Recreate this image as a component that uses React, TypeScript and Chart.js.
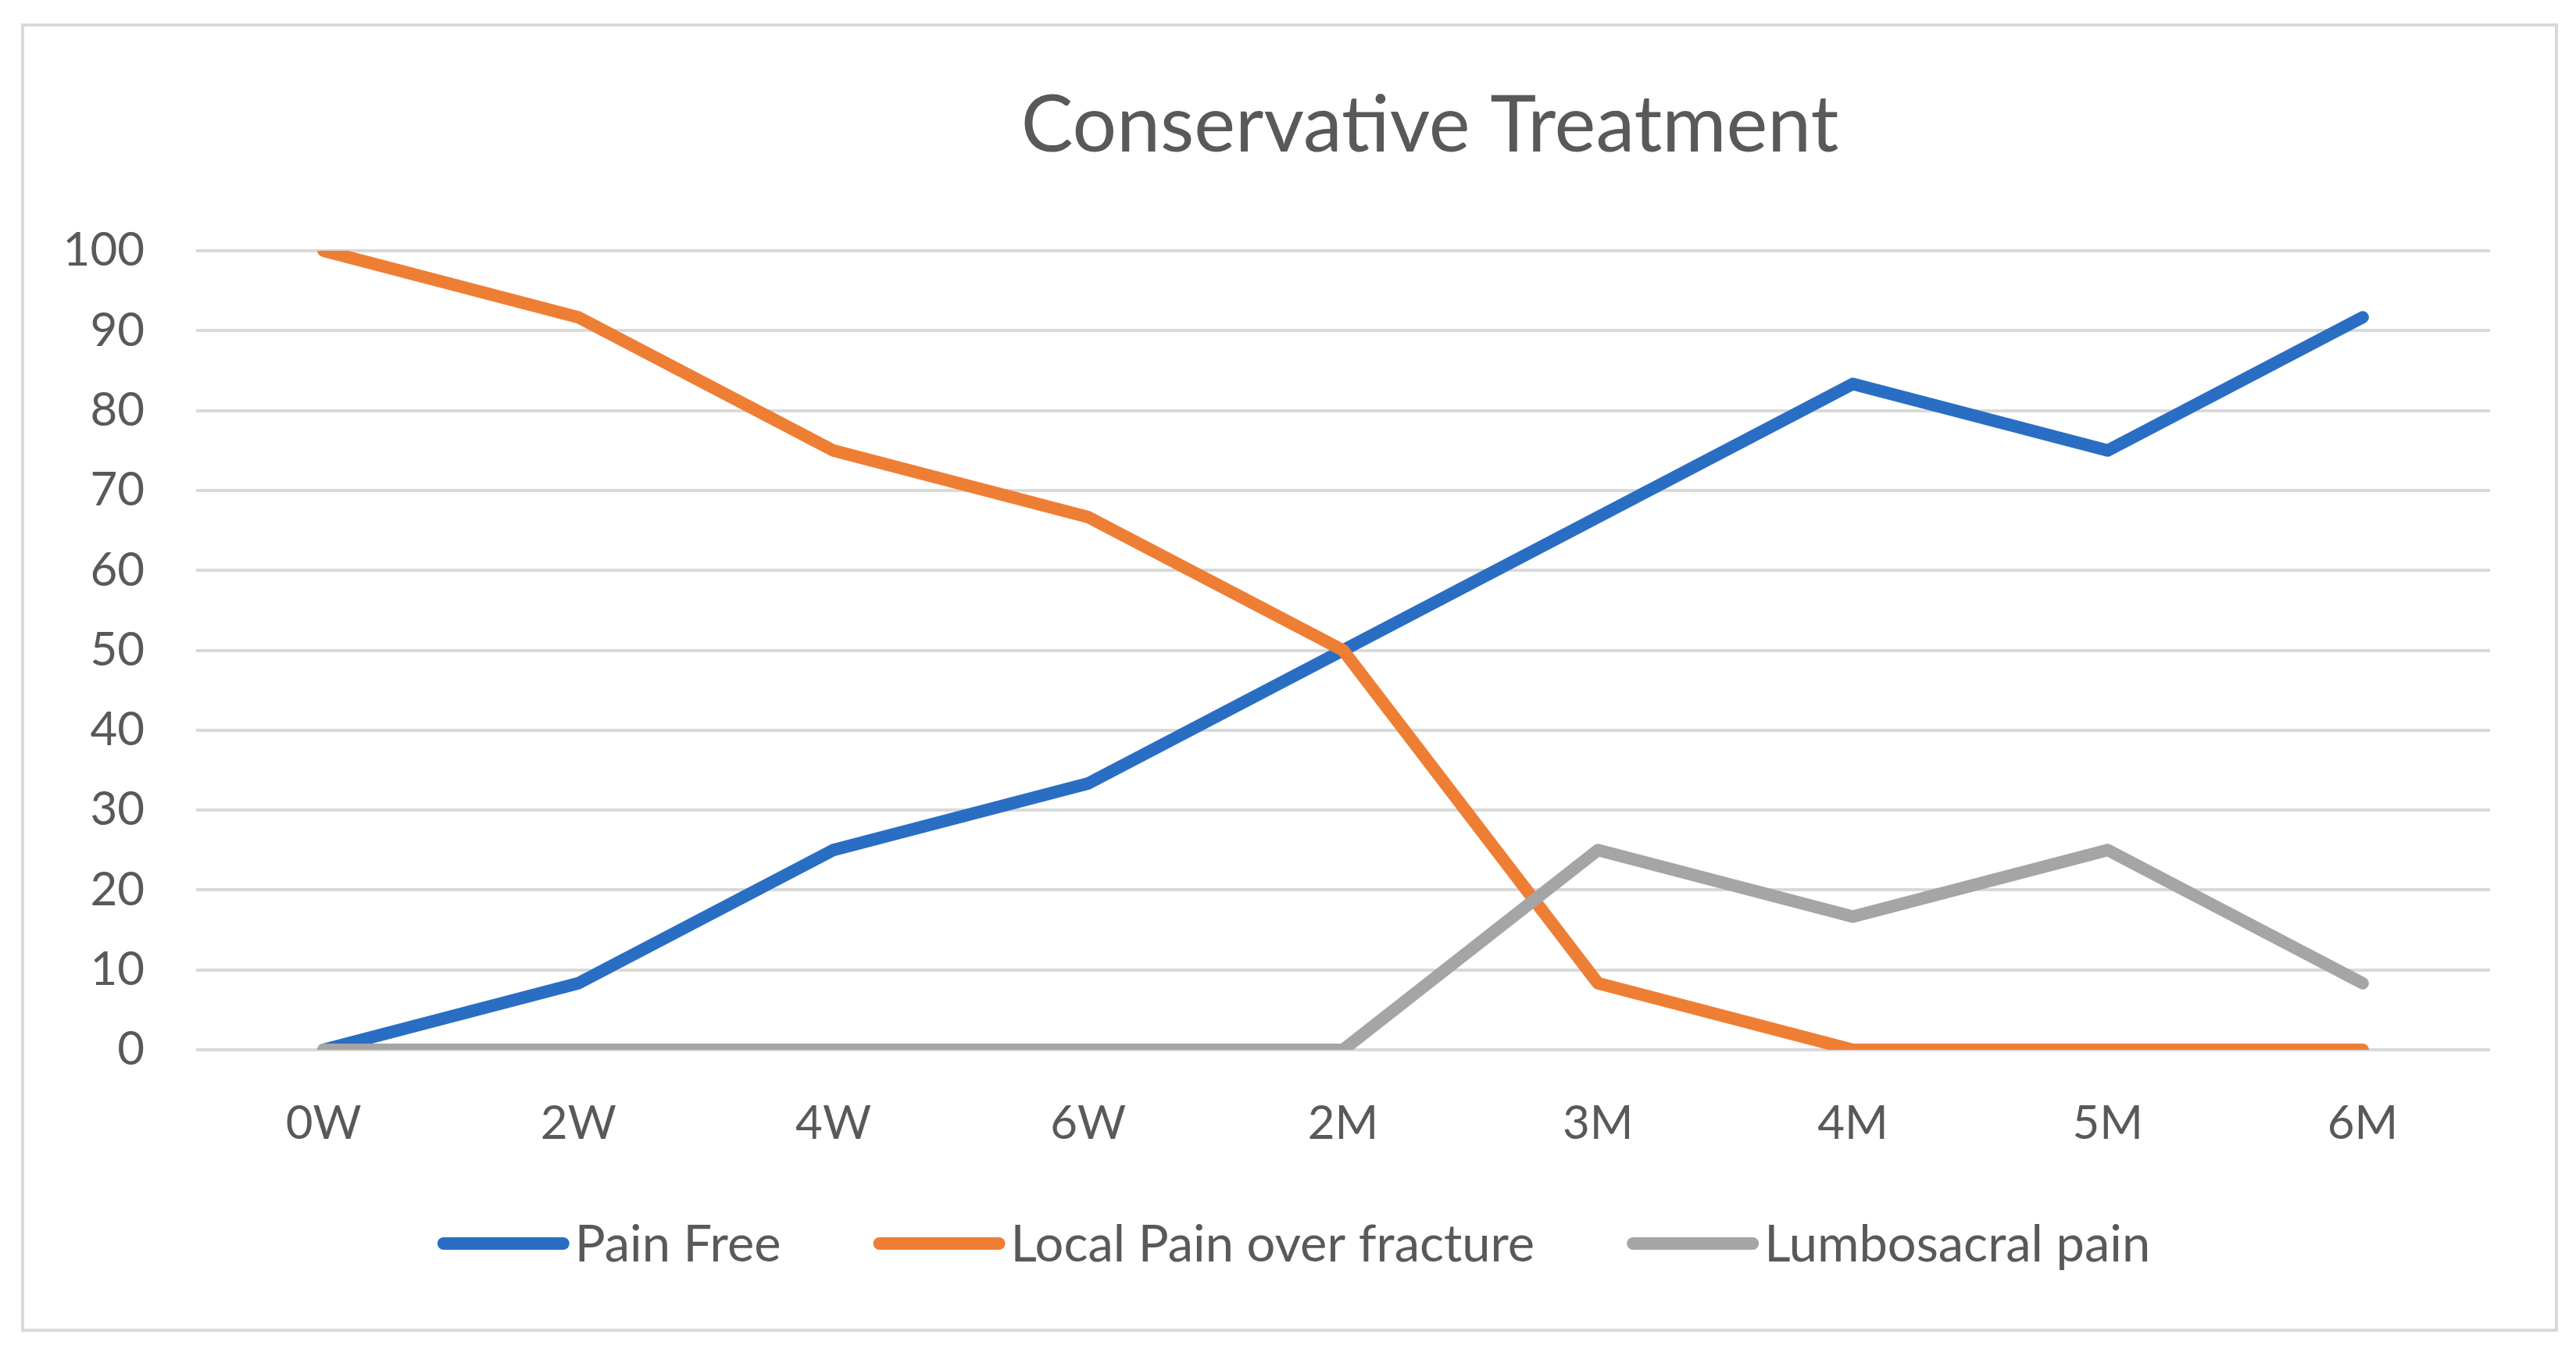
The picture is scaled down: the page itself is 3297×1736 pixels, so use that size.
import { useEffect, useRef } from 'react';
import { Chart, registerables } from 'chart.js';

Chart.register(...registerables);

const categories = ['0W', '2W', '4W', '6W', '2M', '3M', '4M', '5M', '6M'];
const painFree = [0, 8.33, 25, 33.33, 50, 66.67, 83.33, 75, 91.67];
const localPain = [100, 91.67, 75, 66.67, 50, 8.33, 0, 0, 0];
const lumbosacral = [0, 0, 0, 0, 0, 25, 16.67, 25, 8.33];
const seriesNames = ['Pain Free', 'Local Pain over fracture', 'Lumbosacral pain'];
const seriesColors = ['#2A6EC4', '#EF7E35', '#A5A5A5'];
const titleText = 'Conservative Treatment';

const TEXT = '#595959';
const FONT = 'Lato';

const overlayPlugin = {
  id: 'overlayTitleLegend',
  afterDraw(chart: any) {
    const ctx = chart.ctx as CanvasRenderingContext2D;
    ctx.save();
    // title
    ctx.fillStyle = TEXT;
    ctx.font = `100px ${FONT}`;
    ctx.textAlign = 'center';
    ctx.textBaseline = 'middle';
    ctx.fillText(titleText, 1830, 162);

    // legend
    ctx.font = `65px ${FONT}`;
    const sample = 169;
    const gap = 7;
    const between = 118;
    const ds = chart.data.datasets;
    const widths = ds.map((d: any) => ctx.measureText(d.label).width);
    let total = 0;
    widths.forEach((w: number, i: number) => {
      total += sample + gap + w + (i < widths.length - 1 ? between : 0);
    });
    let x = 1656 - total / 2;
    const y = 1592;
    ctx.textAlign = 'left';
    ds.forEach((d: any, i: number) => {
      ctx.strokeStyle = d.borderColor;
      ctx.lineWidth = 16;
      ctx.lineCap = 'round';
      ctx.beginPath();
      ctx.moveTo(x + 8, y);
      ctx.lineTo(x + sample - 8, y);
      ctx.stroke();
      ctx.fillStyle = TEXT;
      ctx.fillText(d.label, x + sample + gap, y + 2);
      x += sample + gap + widths[i] + between;
    });
    ctx.restore();
  },
};

export default function App() {
  const ref = useRef<HTMLCanvasElement>(null);
  useEffect(() => {
    const chart = new Chart(ref.current!, {
      type: 'line',
      data: {
        labels: categories,
        datasets: [
          { label: seriesNames[0], data: painFree, borderColor: seriesColors[0], backgroundColor: seriesColors[0], order: 2 },
          { label: seriesNames[1], data: localPain, borderColor: seriesColors[1], backgroundColor: seriesColors[1], order: 1 },
          { label: seriesNames[2], data: lumbosacral, borderColor: seriesColors[2], backgroundColor: seriesColors[2], order: 0 },
        ],
      },
      options: {
        animation: false,
        responsive: true,
        maintainAspectRatio: false,
        devicePixelRatio: 1,
        layout: { padding: { left: 30, right: 110, top: 321, bottom: 232 } },
        elements: {
          line: { borderWidth: 16, tension: 0, borderCapStyle: 'round', borderJoinStyle: 'round' },
          point: { radius: 0, hoverRadius: 0 },
        },
        plugins: {
          legend: { display: false },
          title: { display: false },
          tooltip: { enabled: false },
        },
        scales: {
          x: {
            type: 'category',
            offset: true,
            grid: { display: false, drawTicks: false },
            border: { display: false },
            ticks: { color: TEXT, font: { family: FONT, size: 60 }, padding: 59, maxRotation: 0, autoSkip: false },
            afterFit(scale: any) { scale.height = 160; },
          },
          y: {
            min: 0,
            max: 100,
            grid: { color: '#D9D9D9', lineWidth: 4, drawTicks: false },
            border: { display: false },
            ticks: { stepSize: 10, color: TEXT, font: { family: FONT, size: 60 }, padding: 66 },
            afterFit(scale: any) { scale.width = 221; },
          },
        },
      },
      plugins: [overlayPlugin],
    } as any);
    return () => chart.destroy();
  }, []);
  return (
    <div style={{ position: 'fixed', left: 0, top: 0, width: 3297, height: 1736, background: '#fff' }}>
      <canvas ref={ref} />
      <div
        style={{
          position: 'absolute',
          left: 27,
          top: 30,
          width: 3247,
          height: 1675,
          border: '4px solid #D9D9D9',
          boxSizing: 'border-box',
          pointerEvents: 'none',
        }}
      />
    </div>
  );
}
